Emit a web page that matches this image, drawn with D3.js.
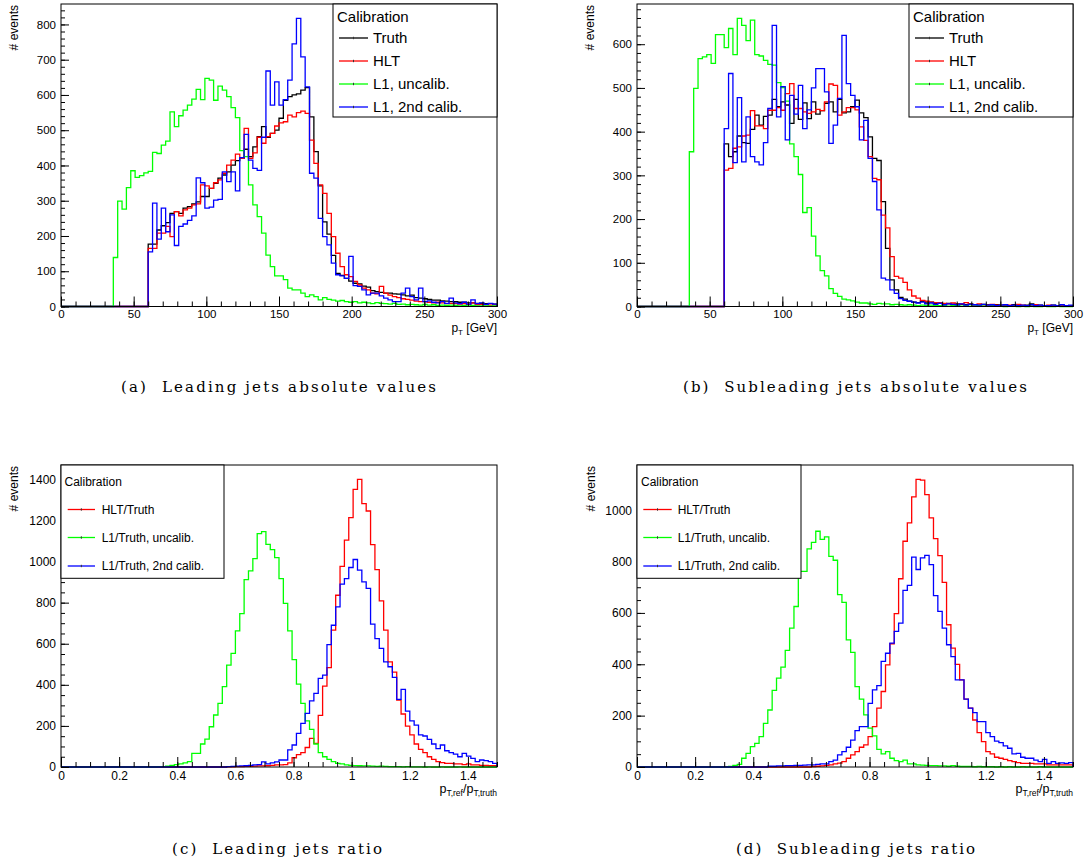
<!DOCTYPE html>
<html>
<head>
<meta charset="utf-8">
<script src="https://cdn.jsdelivr.net/npm/d3@7/dist/d3.min.js"></script>
<style>
html,body{margin:0;padding:0;background:#fff;}
svg{display:block;}
text{font-family:"Liberation Sans",Arial,Helvetica,sans-serif;fill:#000;}
text.cap{font-family:"DejaVu Serif","Liberation Serif",serif;}
</style>
</head>
<body>
<svg id="chart" width="1086" height="866"></svg>
<script>
// ---------------- DATA ----------------
// (a) leading jets, pT histograms: 100 bins of 3 GeV from 0 to 300 GeV
const leadTruth = [
 0,0,0,0,0,0,0,0,0,0, 0,0,0,0,0,0,0,0,0,0,
 177,177,217,229,238,264,269,264,279,283,
 291,297,312,312,335,349,364,373,382,401,
 414,420,446,425,453,482,510,480,491,500,
 534,585,595,600,603,614,621,538,439,342,
 240,205,145,94,88,80,72,66,64,58,
 55,45,42,40,38,38,36,35,33,30,
 32,25,24,22,20,18,18,16,15,14,
 14,12,12,10,10,9,9,8,8,7];
const leadHLT = [
 0,0,0,0,0,0,0,0,0,0, 0,0,0,0,0,0,0,0,0,0,
 165,165,208,208,227,198,269,257,274,279,
 288,291,345,342,335,351,359,378,401,415,
 432,420,505,420,436,480,463,482,491,512,
 521,524,543,538,550,554,548,472,406,345,
 321,264,198,151,113,90,85,71,61,52,
 47,38,36,57,38,32,28,25,22,20,
 18,15,14,14,12,10,12,10,8,9,
 8,7,8,6,10,5,6,5,4,5];
const leadUncalib = [
 0,0,0,0,0,0,0,0,0,0, 0,0,139,299,276,337,385,366,371,379,
 383,437,434,458,469,552,510,541,557,571,
 588,616,587,647,642,585,625,614,595,564,
 536,442,425,345,288,255,208,146,113,87,
 87,76,52,47,47,38,28,33,28,19,
 25,20,18,15,17,14,12,14,10,12,
 10,8,11,9,8,7,9,6,7,5,
 6,5,4,6,4,5,3,4,3,4,
 3,2,3,2,3,2,2,2,1,2];
const leadCalib = [
 0,0,0,0,0,0,0,0,0,0, 0,0,0,0,0,0,0,0,0,0,
 155,293,191,279,212,260,173,227,234,244,
 257,365,351,279,282,302,304,382,354,382,
 328,422,488,415,392,386,480,668,571,637,
 571,587,642,745,817,708,623,378,364,250,
 198,175,123,90,87,80,142,59,57,47,
 33,38,38,30,24,19,14,14,38,52,
 28,19,52,14,16,12,10,14,9,24,
 10,8,12,7,19,8,10,6,9,7];

// (b) subleading jets, pT histograms
const subTruth = [
 0,0,0,0,0,0,0,0,0,0, 0,0,0,0,0,0,0,0,0,0,
 372,343,354,390,375,373,405,438,415,435,
 438,474,457,468,461,419,474,428,466,430,
 468,440,448,465,468,445,474,443,445,457,
 472,443,432,388,339,334,240,133,61,38,
 21,17,12,10,9,12,8,10,7,8,
 6,7,5,6,5,4,6,4,3,5,
 4,3,4,3,3,2,4,3,2,3,
 6,2,3,2,2,3,2,2,1,2];
const subHLT = [
 0,0,0,0,0,0,0,0,0,0, 0,0,0,0,0,0,0,0,0,0,
 312,316,362,365,390,392,448,413,413,407,
 449,449,455,449,487,510,453,453,445,442,
 445,451,448,468,509,506,438,445,455,455,
 450,411,380,343,293,290,209,180,114,69,
 65,55,38,24,19,14,12,10,9,8,
 7,6,8,5,6,9,5,4,6,4,
 3,5,3,2,4,3,2,5,3,2,
 3,4,2,2,3,2,1,2,2,1];
const subUncalib = [
 0,0,0,0,0,0,0,0,0,0, 0,0,354,499,567,571,576,556,622,622,
 592,636,576,659,643,608,655,576,573,563,
 554,552,512,501,470,372,343,302,215,226,
 161,116,82,70,41,30,23,17,15,13,
 10,8,8,6,5,7,6,6,4,5,
 4,3,4,3,2,3,2,3,2,2,
 2,1,2,2,1,2,1,1,2,1,
 1,1,1,1,0,1,1,0,1,0,
 1,0,0,1,0,0,1,0,0,0];
const subCalib = [
 0,0,0,0,0,0,0,0,0,0, 0,0,0,0,0,0,0,0,0,0,
 407,533,329,478,331,434,343,331,324,375,
 453,643,434,503,381,483,440,506,407,450,
 500,544,544,491,373,415,476,620,510,483,
 457,381,426,339,286,221,65,61,38,30,
 18,14,12,10,8,10,6,8,5,7,
 4,6,5,4,6,3,5,4,3,5,
 3,4,2,3,4,2,3,2,3,2,
 4,2,3,2,2,3,2,4,2,3];

// (c) leading jets, ratio histograms: 100 bins of 0.015 from 0 to 1.5
const ratioLeadHLT = [
 0,0,0,0,0,0,0,0,0,0, 0,0,0,0,0,0,0,0,0,0,
 0,0,0,0,0,0,0,0,0,0, 0,0,0,0,0,0,0,0,1,1,
 2,2,3,3,4,5,5,6,8,10,
 10,12,20,45,60,70,95,139,115,251,
 394,484,666,836,977,1104,1214,1351,1400,1282,
 1246,1082,961,809,666,512,462,326,258,199,
 156,112,86,70,50,37,26,21,18,18,
 15,15,12,15,10,10,8,8,6,6];
const ratioLeadUncalib = [
 0,0,0,0,0,0,0,0,0,0, 0,0,0,0,0,0,0,0,0,0,
 0,0,2,2,4,8,12,15,20,26,
 66,66,112,136,196,253,310,391,496,553,
 663,747,912,955,1014,1136,1146,1084,1058,1019,
 917,796,663,523,403,310,225,183,112,70,
 50,37,26,18,15,10,8,7,6,5,
 5,4,3,4,3,2,2,2,1,2,
 1,1,1,0,1,0,0,1,0,0,
 0,1,0,0,0,0,0,0,0,0];
const ratioLeadCalib = [
 0,0,0,0,0,0,0,0,0,0, 0,0,0,0,0,0,0,0,0,0,
 0,0,0,0,0,0,0,0,0,0, 0,0,0,0,0,0,0,0,2,3,
 4,5,6,8,10,12,25,15,20,25,
 34,34,83,107,164,212,261,322,358,431,
 447,596,690,779,890,917,971,1010,958,901,
 869,695,625,577,512,488,436,329,378,272,
 225,204,156,151,134,112,89,107,79,70,
 63,50,66,53,42,26,34,31,26,18];

// (d) subleading jets, ratio histograms
const ratioSubHLT = [
 0,0,0,0,0,0,0,0,0,0, 0,0,0,0,0,0,0,0,0,0,
 0,0,0,0,0,0,0,0,0,0, 0,0,0,0,0,0,0,0,0,0,
 2,3,4,6,8,12,15,21,34,47,
 60,77,86,118,157,229,294,398,480,597,
 733,879,951,1052,1120,1117,1061,970,889,823,
 719,554,463,400,339,264,229,183,134,99,
 60,51,38,34,30,25,21,17,14,14,
 14,12,12,12,8,8,8,8,8,8];
const ratioSubUncalib = [
 0,0,0,0,0,0,0,0,0,0, 0,0,0,0,0,0,0,0,0,0,
 0,2,6,10,34,53,79,92,118,170,
 222,298,346,389,454,541,625,762,762,849,
 875,918,886,896,820,805,671,641,495,446,
 313,264,203,151,121,69,51,60,34,25,
 21,27,12,12,8,7,6,5,5,4,
 4,3,5,3,2,2,2,1,2,1,
 1,1,0,1,0,1,0,0,1,0,
 0,0,1,0,0,0,0,0,0,0];
const ratioSubCalib = [
 0,0,0,0,0,0,0,0,0,0, 0,0,0,0,0,0,0,0,0,0,
 0,0,0,0,0,0,0,0,0,0,
 3,3,4,4,5,5,6,6,7,8,
 8,10,12,12,21,27,47,60,77,105,
 142,157,157,248,300,317,411,443,482,528,
 560,688,707,817,769,814,824,788,667,606,
 541,476,430,339,339,264,229,212,177,177,
 134,118,101,95,82,73,51,53,38,34,
 34,27,21,30,14,21,14,16,14,17];

// axis ranges / tick labels
const ptRange = [0, 300];
const ptBinWidth = 3;
const ratioRange = [0, 1.5];
const ratioBinWidth = 0.015;
const ptTickLabels = [0, 50, 100, 150, 200, 250, 300];
const ratioTickLabels = [0, 0.2, 0.4, 0.6, 0.8, 1, 1.2, 1.4];
const leadCountTicks = [0, 100, 200, 300, 400, 500, 600, 700, 800];
const subCountTicks = [0, 100, 200, 300, 400, 500, 600];
const leadRatioCountTicks = [0, 200, 400, 600, 800, 1000, 1200, 1400];
const subRatioCountTicks = [0, 200, 400, 600, 800, 1000];

// texts
const legendTitle = "Calibration";
const absLegendLabels = ["Truth", "HLT", "L1, uncalib.", "L1, 2nd calib."];
const ratioLegendLabels = ["HLT/Truth", "L1/Truth, uncalib.", "L1/Truth, 2nd calib."];
const yTitle = "# events";
const captions = [
  "(a)\u00a0 Leading jets absolute values",
  "(b)\u00a0 Subleading jets absolute values",
  "(c)\u00a0 Leading jets ratio",
  "(d)\u00a0 Subleading jets ratio"
];

// ---------------- DRAWING ----------------
const BLACK = "#000000", RED = "#ff0000", GREEN = "#00ff00", BLUE = "#0000ff";
const svg = d3.select("#chart");

const panels = [
  { frame:{x:61, y:4, w:436, h:302.5}, xRange:ptRange, binW:ptBinWidth, yMax:858,
    series:[leadTruth, leadHLT, leadUncalib, leadCalib], colors:[BLACK, RED, GREEN, BLUE],
    xMajor:ptTickLabels, xMinorStep:10, yMajor:leadCountTicks, yMinorStep:20, fs:11.5,
    legend:{x:333, y:4, w:164, h:113, fs:15, titleX:337, titleY:21.5, rows:[38, 61, 84, 107], lineX:[339, 368], textX:373, labels:absLegendLabels},
    xlabel:"pt", ytitleX:18, caption:{text:captions[0], x:121, y:392, len:315} },
  { frame:{x:637, y:4, w:436, h:302.5}, xRange:ptRange, binW:ptBinWidth, yMax:692,
    series:[subTruth, subHLT, subUncalib, subCalib], colors:[BLACK, RED, GREEN, BLUE],
    xMajor:ptTickLabels, xMinorStep:10, yMajor:subCountTicks, yMinorStep:20, fs:11.5,
    legend:{x:909, y:4, w:164, h:113, fs:15, titleX:913, titleY:21.5, rows:[38, 61, 84, 107], lineX:[915, 944], textX:949, labels:absLegendLabels},
    xlabel:"pt", ytitleX:594, caption:{text:captions[1], x:683, y:392, len:344} },
  { frame:{x:61, y:465, w:436, h:302}, xRange:ratioRange, binW:ratioBinWidth, yMax:1470,
    series:[ratioLeadHLT, ratioLeadUncalib, ratioLeadCalib], colors:[RED, GREEN, BLUE],
    xMajor:ratioTickLabels, xMinorStep:0.05, yMajor:leadRatioCountTicks, yMinorStep:50, fs:12,
    legend:{x:61, y:465, w:163, h:113.3, fs:12, titleX:64.5, titleY:485.5, rows:[509.5, 537.5, 566], lineX:[67.7, 95], textX:101.7, labels:ratioLegendLabels},
    xlabel:"ratio", ytitleX:18, caption:{text:captions[2], x:172, y:854, len:210} },
  { frame:{x:637, y:465, w:436, h:302}, xRange:ratioRange, binW:ratioBinWidth, yMax:1176,
    series:[ratioSubHLT, ratioSubUncalib, ratioSubCalib], colors:[RED, GREEN, BLUE],
    xMajor:ratioTickLabels, xMinorStep:0.05, yMajor:subRatioCountTicks, yMinorStep:50, fs:12,
    legend:{x:637, y:465, w:164, h:113.3, fs:12, titleX:641, titleY:485.5, rows:[509.5, 537.5, 566], lineX:[643.3, 671.7], textX:677.7, labels:ratioLegendLabels},
    xlabel:"ratio", ytitleX:595, caption:{text:captions[3], x:736, y:854, len:239} }
];

function histPoints(values, lo, bw) {
  const pts = [[lo, 0]];
  values.forEach((v, k) => {
    pts.push([lo + k * bw, v]);
    pts.push([lo + (k + 1) * bw, v]);
  });
  pts.push([lo + values.length * bw, 0]);
  return pts;
}

panels.forEach(p => {
  const f = p.frame;
  const g = svg.append("g");
  const x = d3.scaleLinear().domain(p.xRange).range([f.x, f.x + f.w]);
  const y = d3.scaleLinear().domain([0, p.yMax]).range([f.y + f.h, f.y]);

  // histograms
  const line = d3.line().x(d => x(d[0])).y(d => y(d[1]));
  p.series.forEach((vals, i) => {
    g.append("path")
      .attr("d", line(histPoints(vals, p.xRange[0], p.binW)))
      .attr("fill", "none")
      .attr("stroke", p.colors[i])
      .attr("stroke-width", 1.3)
      .attr("stroke-linejoin", "miter");
  });

  // axes (ticks inside the frame, ROOT style)
  const xMinor = d3.range(p.xRange[0], p.xRange[1] + 1e-9, p.xMinorStep);
  const yMinor = d3.range(0, p.yMax, p.yMinorStep);
  const fmt = d3.format("~g");

  const gxMinor = g.append("g").attr("transform", `translate(0,${f.y + f.h})`)
    .call(d3.axisBottom(x).tickValues(xMinor).tickSizeInner(-5).tickSizeOuter(0).tickFormat(""));
  const gx = g.append("g").attr("transform", `translate(0,${f.y + f.h})`)
    .call(d3.axisBottom(x).tickValues(p.xMajor).tickSizeInner(-10).tickSizeOuter(0)
      .tickPadding(p.fs === 12 ? 4.5 : 3.4).tickFormat(fmt));
  const gyMinor = g.append("g").attr("transform", `translate(${f.x},0)`)
    .call(d3.axisLeft(y).tickValues(yMinor).tickSizeInner(-4).tickSizeOuter(0).tickFormat(""));
  const gy = g.append("g").attr("transform", `translate(${f.x},0)`)
    .call(d3.axisLeft(y).tickValues(p.yMajor).tickSizeInner(-8).tickSizeOuter(0)
      .tickPadding(5).tickFormat(fmt));
  [gxMinor, gx, gyMinor, gy].forEach(a => {
    a.select(".domain").remove();
    a.selectAll("line").attr("stroke", "#000").attr("stroke-width", 1);
    a.selectAll("text").attr("font-size", p.fs).attr("font-family", '"Liberation Sans",Arial,sans-serif').attr("fill", "#000");
  });

  // frame
  g.append("rect").attr("x", f.x).attr("y", f.y).attr("width", f.w).attr("height", f.h)
    .attr("fill", "none").attr("stroke", "#000").attr("stroke-width", 1);

  // y title
  g.append("text").attr("transform", `translate(${p.ytitleX},${f.y + 1}) rotate(-90)`)
    .attr("text-anchor", "end").attr("font-size", 12).text(yTitle);

  // x title (placed just below the last tick label)
  const xt = g.append("text").attr("text-anchor", "end").attr("x", f.x + f.w);
  if (p.xlabel === "pt") {
    xt.attr("y", f.y + f.h + 25).attr("font-size", 12);
    xt.append("tspan").text("p");
    xt.append("tspan").attr("font-size", 8).attr("dy", 3).text("T");
    xt.append("tspan").attr("dy", -3).text(" [GeV]");
  } else {
    xt.attr("y", f.y + f.h + 25.5).attr("font-size", 12.5);
    xt.append("tspan").text("p");
    xt.append("tspan").attr("font-size", 8.5).attr("dy", 3.5).text("T,ref");
    xt.append("tspan").attr("dy", -3.5).text("/p");
    xt.append("tspan").attr("font-size", 8.5).attr("dy", 3.5).text("T,truth");
  }

  // legend
  const L = p.legend;
  const lg = g.append("g");
  lg.append("rect").attr("x", L.x).attr("y", L.y).attr("width", L.w).attr("height", L.h)
    .attr("fill", "#fff").attr("stroke", "#000").attr("stroke-width", 1);
  lg.append("text").attr("x", L.titleX).attr("y", L.titleY).attr("font-size", L.fs).text(legendTitle);
  L.labels.forEach((lab, i) => {
    const cy = L.rows[i];
    const col = p.colors[i];
    lg.append("line").attr("x1", L.lineX[0]).attr("x2", L.lineX[1]).attr("y1", cy).attr("y2", cy)
      .attr("stroke", col).attr("stroke-width", 1.3);
    lg.append("line").attr("x1", (L.lineX[0] + L.lineX[1]) / 2).attr("x2", (L.lineX[0] + L.lineX[1]) / 2)
      .attr("y1", cy - 1.2).attr("y2", cy + 1.2).attr("stroke", "#333").attr("stroke-width", 1);
    lg.append("text").attr("x", L.textX).attr("y", cy + L.fs * 0.36).attr("font-size", L.fs).text(lab);
  });

  // caption
  const c = p.caption;
  g.append("text").attr("class", "cap").attr("x", c.x).attr("y", c.y)
    .attr("font-size", 15).attr("textLength", c.len).attr("lengthAdjust", "spacing")
    .style("white-space", "pre").text(c.text);
});
</script>
</body>
</html>
